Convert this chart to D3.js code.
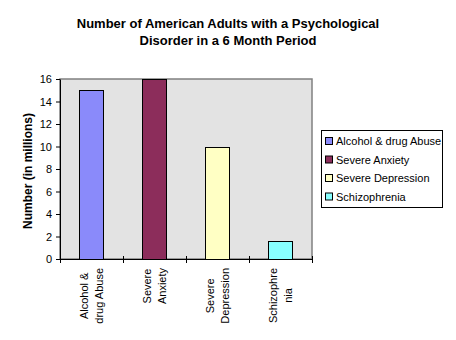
<!DOCTYPE html>
<html><head><meta charset="utf-8">
<script src="https://cdn.jsdelivr.net/npm/d3@7"></script>
<style>body{margin:0;background:#fff}svg{display:block;font-family:Arial,"Liberation Sans",sans-serif}</style>
</head><body>
<svg id="c" width="456" height="340"></svg>
<script>
const categories = ["Alcohol & drug Abuse","Severe Anxiety","Severe Depression","Schizophrenia"];
const axisLabels = [["Alcohol &","drug Abuse"],["Severe","Anxiety"],["Severe","Depression"],["Schizophre","nia"]];
const values = [15,16,10,1.6];
const colors = ["#8A8AFA","#8C2D5B","#FFFFC4","#88FFFF"];
const yTicks = [0,2,4,6,8,10,12,14,16];

const svg = d3.select("#c");
const L=60,R=312,T=79,B=259;
const x = d3.scaleBand().domain(categories).range([L,R]).paddingInner(0.62).paddingOuter(0.31);
const xb = d3.scaleBand().domain(categories).range([L,R]);
const y = d3.scaleLinear().domain([0,16]).range([B,T]);

svg.append("rect").attr("x",L).attr("y",T).attr("width",R-L).attr("height",B-T)
  .attr("fill","#E3E3E3").attr("stroke","#808080").attr("stroke-width",1.5);

svg.selectAll("rect.bar").data(values).enter().append("rect").attr("class","bar")
  .attr("x",(d,i)=>Math.round(x(categories[i]))-0.5).attr("width",Math.round(x.bandwidth()))
  .attr("y",d=>Math.round(y(d))+0.5).attr("height",d=>B-Math.round(y(d)))
  .attr("fill",(d,i)=>colors[i]).attr("stroke","#000").attr("stroke-width",1);

// y axis
const ya = svg.append("g").attr("transform",`translate(${L},0)`)
  .call(d3.axisLeft(y).tickValues(yTicks).tickSize(4).tickSizeOuter(0));
ya.select(".domain").attr("stroke","#000");
ya.selectAll("text").attr("font-size",11).attr("fill","#000").attr("dx",-1);
// x axis
const xa = svg.append("g").attr("transform",`translate(0,${B})`);
xa.append("line").attr("x1",L-4).attr("x2",R).attr("y1",0.5).attr("y2",0.5).attr("stroke","#000");
const edges = categories.map(c=>xb(c)).concat([R]);
xa.selectAll("line.t").data(edges).enter().append("line").attr("class","t")
  .attr("x1",d=>Math.round(d)+0.5).attr("x2",d=>Math.round(d)+0.5).attr("y1",-3).attr("y2",4).attr("stroke","#000");
axisLabels.forEach((lines,i)=>{
  const cx = xb(categories[i])+xb.bandwidth()/2;
  const nodes = lines.map((ln,j)=>svg.append("text")
      .attr("text-anchor","middle").attr("font-size",11).attr("fill","#000").text(ln));
  const maxW = d3.max(nodes, n=>n.node().getComputedTextLength());
  const mid = 268 + maxW/2;
  nodes.forEach((n,j)=>n.attr("transform",`translate(${cx-4+j*15},${mid}) rotate(-90)`));
});

// y title
svg.append("text").attr("transform","translate(32,171) rotate(-90)").attr("text-anchor","middle")
  .attr("font-size",12).attr("font-weight","bold").text("Number (in millions)");
// title
const tt = ["Number of American Adults with a Psychological","Disorder in a 6 Month Period"];
tt.forEach((t,i)=>svg.append("text").attr("x",228).attr("y",27.5+i*17).attr("text-anchor","middle")
  .attr("font-size",13).attr("font-weight","bold").text(t));

// legend
const lg = svg.append("g");
lg.append("rect").attr("x",321.5).attr("y",130.5).attr("width",121).attr("height",77).attr("fill","#fff").attr("stroke","#000");
categories.forEach((c,i)=>{
  const yy = 141+i*18.5;
  lg.append("rect").attr("x",325.5).attr("y",yy-3.5).attr("width",7).attr("height",7).attr("fill",colors[i]).attr("stroke","#000");
  lg.append("text").attr("x",336).attr("y",yy+4).attr("font-size",11).text(c);
});
</script>
</body></html>
